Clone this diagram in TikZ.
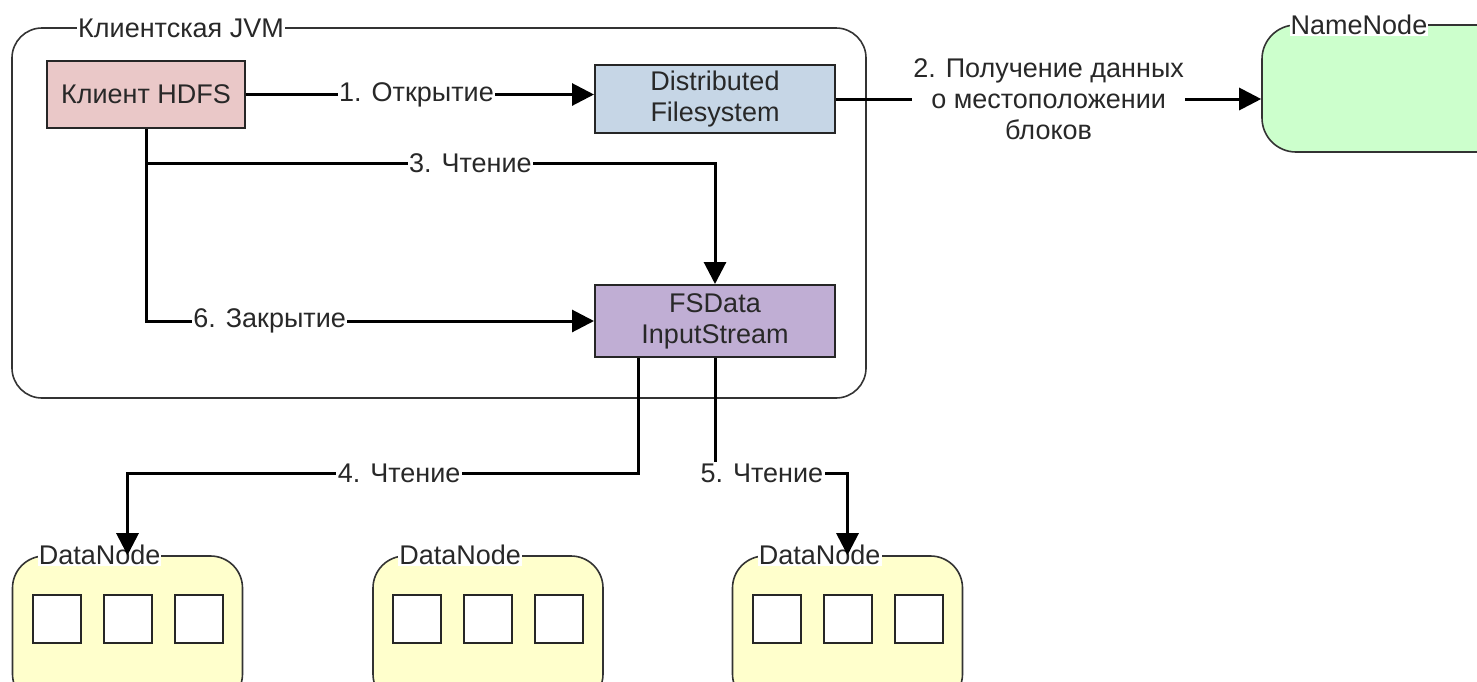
\documentclass[tikz,border=0pt]{standalone}
\usepackage{fontspec}
\setmainfont{Liberation Sans}
\usetikzlibrary{arrows.meta}
\definecolor{clientfill}{RGB}{234,200,200}
\definecolor{dfsfill}{RGB}{198,214,230}
\definecolor{fsdfill}{RGB}{192,174,212}
\definecolor{nnfill}{RGB}{204,255,204}
\definecolor{dnfill}{RGB}{255,255,204}
\definecolor{inktext}{RGB}{40,40,40}
\tikzset{
  every node/.style={font=\fontsize{27}{31}\selectfont, text=inktext},
  procbox/.style={draw=black!85, line width=2pt, align=center, inner sep=0pt},
  container/.style={draw=black!80, line width=1.6pt, rounded corners=30pt, inner sep=0pt},
  caption/.style={fill=white, inner sep=1pt},
  lbl/.style={fill=white, inner sep=1.5pt, align=center},
  conn/.style={line width=3pt, -{Triangle[length=22pt,width=22pt]}},
  block/.style={draw=black!85, line width=2pt, fill=white, minimum width=48pt, minimum height=48pt, inner sep=0pt},
}
\begin{document}
\begin{tikzpicture}[x=1pt, y=-1pt]
\useasboundingbox (0,0) rectangle (1477,681);

% client JVM container
\node[container, minimum width=854pt, minimum height=370pt] (jvm) at (439,213) {};
\node[caption] (jvmcap) at (181,28) {Клиентская JVM};

% processes inside the JVM
\node[procbox, fill=clientfill, minimum width=198pt, minimum height=67pt] (client) at (146,94.5) {Клиент HDFS};
\node[procbox, fill=dfsfill, minimum width=240pt, minimum height=68pt] (dfs) at (715,99) {Distributed\\Filesystem};
\node[procbox, fill=fsdfill, minimum width=240pt, minimum height=72pt] (fsd) at (715,321) {FSData\\InputStream};

% NameNode
\node[container, fill=nnfill, rounded corners=34pt, minimum width=250pt, minimum height=127pt] (nn) at (1387,88.5) {};
\node[caption] (nncap) at (1359,25) {NameNode};

% DataNodes with their blocks
\foreach \n/\cx in {1/127.5, 2/488, 3/847.5}{
  \node[container, fill=dnfill, rounded corners=32pt, minimum width=230pt, minimum height=150pt] (dn\n) at (\cx,631) {};
  \node[caption] (dn\n cap) at ([xshift=88pt]dn\n.north west) {DataNode};
  \node[block] (dn\n a) at ([xshift=-71pt]\cx,619) {};
  \node[block] (dn\n b) at (\cx,619) {};
  \node[block] (dn\n c) at ([xshift=71pt]\cx,619) {};
}

% 1. open
\draw[conn] (client.east) -- node[lbl, pos=0.49] {1. Открытие} (dfs.west |- client.east);
% 2. block locations
\draw[conn] (dfs.east) -- node[lbl, pos=0.5] {2. Получение данных\\о местоположении\\блоков} (nn.west |- dfs.east);
% 3. read
\draw[conn] (client.south) |- (715,163) node[lbl, pos=0.785] {3. Чтение} -- (fsd.north);
% 6. close
\draw[conn] (client.south) |- node[lbl, pos=0.638] {6. Закрытие} (fsd.west);
% 4. read from the first DataNode
\draw[conn] ([xshift=-77pt]fsd.south) |- (127.5,473) node[lbl, pos=0.734] {4. Чтение} -- (dn1.north);
% 5. read from the third DataNode
\draw[conn] (fsd.south) |- (847.5,473) node[lbl, pos=0.677] {5. Чтение} -- (dn3.north);
\end{tikzpicture}
\end{document}
